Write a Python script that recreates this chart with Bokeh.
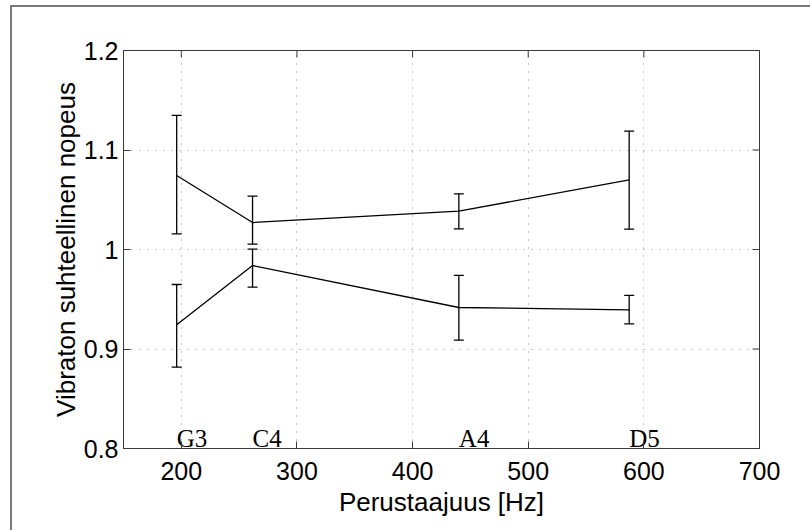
import math
from bokeh.plotting import figure
from bokeh.models import ColumnDataSource, Whisker, TeeHead, FixedTicker, Range1d
from bokeh.core.properties import value
from bokeh.embed import file_html
from bokeh.resources import INLINE

# ---- data ----
notes = ["G3", "C4", "A4", "D5"]
freqs = [196.0, 261.6, 440.0, 587.3]

upper_mean = [1.0744, 1.0271, 1.0385, 1.0700]
upper_lo = [1.0158, 1.0054, 1.0208, 1.0204]
upper_hi = [1.1347, 1.0536, 1.0560, 1.1189]

lower_mean = [0.9243, 0.9839, 0.9417, 0.9394]
lower_lo = [0.8817, 0.9621, 0.9089, 0.9253]
lower_hi = [0.9648, 1.0003, 0.9739, 0.9538]

x_ticks = [200, 300, 400, 500, 600, 700]
y_ticks = [0.8, 0.9, 1.0, 1.1, 1.2]
y_tick_labels = ["0.8", "0.9", "1", "1.1", "1.2"]
x_min, x_max = 150, 700
y_min, y_max = 0.8, 1.2
note_label_y = 0.81

x_label = "Perustaajuus [Hz]"
y_label = "Vibraton suhteellinen nopeus"

SANS = "Liberation Sans"
SERIF = "Liberation Serif"
AXC = "#3a3a3a"

p = figure(width=800, height=525, output_backend="svg", toolbar_location=None,
           x_range=Range1d(x_min, x_max), y_range=Range1d(y_min, y_max),
           min_border_left=111, min_border_right=53, min_border_top=43, min_border_bottom=84,
           background_fill_color="white", border_fill_color="white")
# outer figure frame: only its left and top edges are visible in the reference
p.styles = {"margin-left": "12px", "margin-top": "7px",
            "box-shadow": "-2px -2px 0px 0px #7a7a7a", "background": "white"}

p.outline_line_color = AXC
p.outline_line_width = 1

# grid
p.xgrid.ticker = FixedTicker(ticks=x_ticks)
p.ygrid.ticker = FixedTicker(ticks=y_ticks)
for g in (p.xgrid, p.ygrid):
    g.grid_line_color = "#8a8a8a"
    g.grid_line_dash = "1 7"
    g.grid_line_width = 1

# axes
p.xaxis.ticker = FixedTicker(ticks=x_ticks)
p.yaxis.ticker = FixedTicker(ticks=y_ticks)
p.yaxis.major_label_overrides = {t: l for t, l in zip(y_ticks, y_tick_labels)}
p.xaxis.axis_label = x_label
p.yaxis.axis_label = y_label
for ax in (p.xaxis[0], p.yaxis[0]):
    ax.axis_line_color = AXC
    ax.major_tick_line_color = AXC
    ax.major_tick_in = 7
    ax.major_tick_out = 0
    ax.minor_tick_line_color = None
    ax.major_label_text_font = SANS
    ax.major_label_text_font_size = "25px"
    ax.major_label_text_color = "black"
    ax.axis_label_text_font = SANS
    ax.axis_label_text_font_size = "26px"
    ax.axis_label_text_font_style = "normal"
    ax.axis_label_text_color = "black"
p.xaxis.major_label_standoff = 13
p.xaxis.axis_label_standoff = 4
p.yaxis.major_label_standoff = 5
p.yaxis.axis_label_standoff = 0

# mirrored inward ticks on top and right edges (clipped to the frame)
p.scatter(x=x_ticks, y=[y_max] * len(x_ticks), marker="dash", size=14,
          angle=math.pi / 2, line_color=AXC, line_width=1)
p.scatter(x=[x_max] * len(y_ticks), y=y_ticks, marker="dash", size=14,
          line_color=AXC, line_width=1)

# series
src_u = ColumnDataSource(dict(x=freqs, y=upper_mean, lo=upper_lo, hi=upper_hi))
src_l = ColumnDataSource(dict(x=freqs, y=lower_mean, lo=lower_lo, hi=lower_hi))
for src in (src_u, src_l):
    p.line("x", "y", source=src, line_color="black", line_width=1.3)
    w = Whisker(source=src, base="x", upper="hi", lower="lo", dimension="height",
                line_color="black", line_width=1.3,
                upper_head=TeeHead(size=10, line_color="black", line_width=1.3),
                lower_head=TeeHead(size=10, line_color="black", line_width=1.3))
    p.add_layout(w)

# note labels
p.text(x=freqs, y=[note_label_y] * len(freqs), text=notes,
       text_font=value(SERIF), text_font_size="25px", text_color="black",
       text_align="left", text_baseline="alphabetic")

open("out.html", "w").write(file_html(p, INLINE))
